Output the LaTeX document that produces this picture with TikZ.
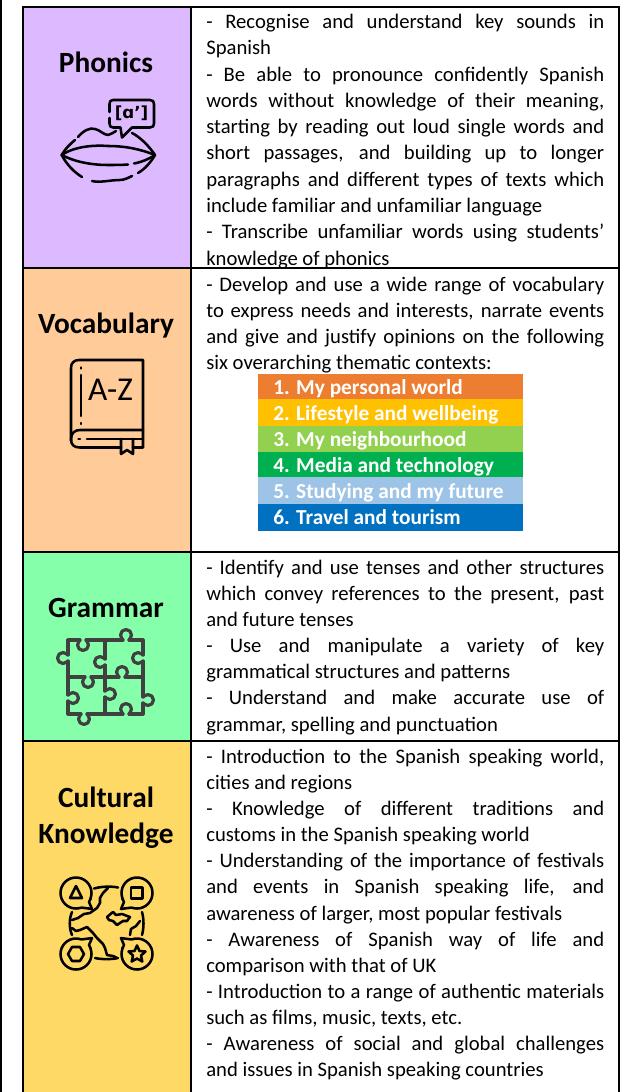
\documentclass[tikz,border=0pt]{standalone}
\usepackage{fontspec}
\setmainfont{Carlito}
\newfontfamily\iconfont{DejaVu Sans}
\definecolor{cpurple}{HTML}{DDB9FF}
\definecolor{corange}{HTML}{FFCC99}
\definecolor{cgreen}{HTML}{85FFAA}
\definecolor{cyellow}{HTML}{FFD966}
\definecolor{band1}{HTML}{ED7D31}
\definecolor{band2}{HTML}{FFC000}
\definecolor{band3}{HTML}{92D050}
\definecolor{band4}{HTML}{00B050}
\definecolor{band5}{HTML}{9DC3E6}
\definecolor{band6}{HTML}{0070C0}
\definecolor{puzz}{HTML}{404040}
\newcommand{\jbrk}{\break}
\newcommand{\bodyset}{\tolerance=10000\relax\hbadness=10000\relax\hfuzz=3pt\relax\spaceskip=0.226em plus 0.6em minus 0.13em\relax}
\newcommand{\bandset}{\spaceskip=0.226em\relax}
\tikzset{
  x=0.75pt,y=-0.75pt,
  tablerule/.style={line width=1.5pt,black},
  celltitle/.style={font=\fontsize{22}{26}\selectfont\bfseries,inner sep=0pt,anchor=base},
  bodytext/.style={anchor=north west,inner sep=0pt,text width=298.5pt,align=justify,
    font=\fontsize{15.5}{19.55}\selectfont},
  bandbox/.style={anchor=base west,inner sep=0pt,text=white,font=\fontsize{16}{19}\selectfont\bfseries},
  icon/.style={line width=1.9pt,line cap=round,line join=round,black},
  pics/knob/.style={code={
    \draw[line width=2.4pt,puzz,line cap=round,line join=round]
      (-3,0) .. controls (-3,1) and (-5.5,2) .. (-5.5,5) .. controls (-5.5,8) and (-3,10.5) .. (0,10.5)
      .. controls (3,10.5) and (5.5,8) .. (5.5,5) .. controls (5.5,2) and (3,1) .. (3,0);}},
  pics/bubble/.style={code={
    \draw[icon] (0,0) circle[radius=15.5];
    \fill[cyellow] (14.6,5.5) -- (16.5,16.5) -- (5.5,14.6) -- (0,5) -- cycle;
    \draw[icon] (14.6,5.5) -- (13,9) .. controls (14,11) and (15,14) .. (16,16) .. controls (13,15.5) and (9,15) .. (5.5,14.6);
  }},
}
\begin{document}
\begin{tikzpicture}
\useasboundingbox (0,0) rectangle (629,1092);
\fill[white] (0,0) rectangle (629,1092);
% cell fills
\fill[cpurple] (22,7) rectangle (190.5,268);
\fill[corange] (22,268) rectangle (190.5,552);
\fill[cgreen] (22,552) rectangle (190.5,741);
\fill[cyellow] (22,741) rectangle (190.5,1092);
% table rules
\draw[tablerule] (1,0) -- (1,1092);
\draw[tablerule] (22.5,1092) -- (22.5,7) -- (619,7) -- (619,1092);
\draw[tablerule] (190.5,7) -- (190.5,1092);
\draw[tablerule] (22.5,268) -- (619,268);
\draw[tablerule] (22.5,552) -- (619,552);
\draw[tablerule] (22.5,741) -- (619,741);
% titles
\node[celltitle] (tphon) at (106,72) {Phonics};
\node[celltitle] (tvoc) at (106,333.5) {Vocabulary};
\node[celltitle] (tgram) at (106,617) {Grammar};
\node[celltitle] (tcult1) at (106,807) {Cultural};
\node[celltitle] (tcult2) at (106,843) {Knowledge};
% body text
\node[bodytext,font=\fontsize{15.5}{19.7}\selectfont] (bphon) at (206,14) {\bodyset - Recognise and understand key sounds in\jbrk Spanish\par
- Be able to pronounce confidently Spanish\jbrk words without knowledge of their meaning,\jbrk starting by reading out loud single words and\jbrk short passages, and building up to longer\jbrk paragraphs and different types of texts which\jbrk include familiar and unfamiliar language\par
- Transcribe unfamiliar words using students’\jbrk knowledge of phonics\par};
\node[bodytext] (bvoc) at (206,276.5) {\bodyset - Develop and use a wide range of vocabulary\jbrk to express needs and interests, narrate events\jbrk and give and justify opinions on the following\jbrk six overarching thematic contexts:\par};
\node[bodytext] (bgram) at (206,560) {\bodyset - Identify and use tenses and other structures\jbrk which convey references to the present, past\jbrk and future tenses\par
- Use and manipulate a variety of key\jbrk grammatical structures and patterns\par
- Understand and make accurate use of\jbrk grammar, spelling and punctuation\par};
\node[bodytext] (bcult) at (206,749) {\bodyset - Introduction to the Spanish speaking world,\jbrk cities and regions\par
- Knowledge of different traditions and\jbrk customs in the Spanish speaking world\par
- Understanding of the importance of festivals\jbrk and events in Spanish speaking life, and\jbrk awareness of larger, most popular festivals\par
- Awareness of Spanish way of life and\jbrk comparison with that of UK\par
- Introduction to a range of authentic materials\jbrk such as films, music, texts, etc.\par
- Awareness of social and global challenges\jbrk and issues in Spanish speaking countries\par};
% bands
\fill[band1] (258,374) rectangle (523,399);
\fill[band2] (258,399) rectangle (523,426);
\fill[band3] (258,426) rectangle (523,452);
\fill[band4] (258,452) rectangle (523,477);
\fill[band5] (258,477) rectangle (523,504);
\fill[band6] (258,504) rectangle (523,530.6);
\node[bandbox] (b1) at (273,394) {\bandset 1. My personal world};
\node[bandbox] (b2) at (273,420) {\bandset 2. Lifestyle and wellbeing};
\node[bandbox] (b3) at (273,446) {\bandset 3. My neighbourhood};
\node[bandbox] (b4) at (273,472) {\bandset 4. Media and technology};
\node[bandbox] (b5) at (273,498) {\bandset 5. Studying and my future};
\node[bandbox] (b6) at (273,524.7) {\bandset 6. Travel and tourism};
% lips icon
\draw[icon] (61.7,155) .. controls (75,146) and (95,145) .. (108,146) .. controls (125,146) and (140,149) .. (155,155);
\draw[icon] (61.7,155) .. controls (75,162) and (92,165) .. (108,165) .. controls (115,165) and (122,165) .. (128,164.5);
\draw[icon] (134,163.5) .. controls (142,162) and (149,159) .. (155,155);
\draw[icon] (61.7,155) .. controls (65,149) and (70,144) .. (75,140);
\draw[icon] (78,137) .. controls (83,131) and (90,127) .. (95,129) .. controls (100,130) and (104,135) .. (108,135) .. controls (111,135) and (113,132) .. (116,131);
\draw[icon] (132,133) .. controls (140,137) and (149,146) .. (155,155);
\draw[icon] (61.7,155) .. controls (67,165) and (74,172) .. (82,177);
\draw[icon] (92,181) .. controls (100,183) and (110,180) .. (120,180) .. controls (124,180) and (128,178) .. (132,176);
\draw[icon] (138,173) .. controls (145,169) and (151,162) .. (155,155);
\draw[icon] (109.5,112) -- (109.5,104) .. controls (109.5,101.5) and (110.5,100) .. (113,100) -- (150,100) .. controls (153,100) and (154,101.5) .. (154,104) -- (154,123.5) .. controls (154,126) and (153,127.5) .. (150,127.5) -- (132,127.5) -- (122,137.5) -- (120.5,127.5) -- (113,127.5) .. controls (110.5,127.5) and (109.5,126) .. (109.5,123.5) -- (109.5,118);
\node[inner sep=0pt,font=\iconfont\bfseries\fontsize{12.5}{15}\selectfont] (lipsym) at (131.5,113.5) {[ɑ’]};
% book icon
\draw[icon] (71,441) -- (71,368) .. controls (71,363) and (74,360) .. (79,360) -- (143,360) -- (143,447.5) -- (133,447.5);
\draw[icon] (121,447.5) -- (80,447.5) .. controls (74,447.5) and (71,445) .. (71,439) .. controls (71,433) and (75,430) .. (80,430) -- (143,430);
\draw[icon] (87,439) -- (143,439);
\draw[icon] (78.5,439) -- (80,439);
\draw[icon] (81,367.5) -- (81,368.5);
\draw[icon] (81,375) -- (81,416);
\draw[icon] (81,423) -- (81,424);
\draw[icon] (121,439) -- (121,454) -- (127,450) -- (133,454) -- (133,439);
\node[inner sep=0pt,font=\fontsize{25}{27}\selectfont] (bookaz) at (110.5,390) {A-Z};
% puzzle icon
\draw[line width=2.4pt,puzz,line cap=round,line join=round]
  (68,655) -- (68,640) -- (80,640) (86,640) -- (123,640) (129,640) -- (143,640) -- (143,655)
  (143,661) -- (143,697) (143,703) -- (143,714) -- (129,714) (123,714) -- (87,714) (81,714) -- (68,714) -- (68,701)
  (68,695) -- (68,661)
  (105,640) -- (105,659) (105,665) -- (105,691) (105,697) -- (105,714)
  (68,677) -- (85,677) (91,677) -- (119,677) (125,677) -- (143,677);
\pic at (83,640) {knob};
\pic[rotate=180] at (126,640) {knob};
\pic[rotate=-90] at (68,658) {knob};
\pic[rotate=-90] at (143,658) {knob};
\pic[rotate=-90] at (105,662) {knob};
\pic[rotate=180] at (122,677) {knob};
\pic at (88,677) {knob};
\pic[rotate=90] at (68,698) {knob};
\pic[rotate=90] at (105,694) {knob};
\pic[rotate=90] at (143,700) {knob};
\pic[rotate=180] at (126,714) {knob};
\pic at (84,714) {knob};
% globe icon
\pic at (76,893) {bubble};
\pic[xscale=-1] at (137,893) {bubble};
\pic[yscale=-1] at (76,954) {bubble};
\pic[xscale=-1,yscale=-1] at (137,954) {bubble};
\draw[icon] (76,886) -- (70,898) -- (82,898) -- cycle;
\draw[icon] (131,887.5) rectangle (142.5,898.5);
\draw[icon] (84,954) -- (80,961) -- (72,961) -- (68,954) -- (72,947) -- (80,947) -- cycle;
\draw[icon] (137,945.5) -- (139.5,951) -- (145.5,951.5) -- (141,955.5) -- (142.3,961.5) -- (137,958.5) -- (131.7,961.5) -- (133,955.5) -- (128.5,951.5) -- (134.5,951) -- cycle;
\draw[icon] (94,888.5) .. controls (101,886.5) and (111,886) .. (118,887.5);
\draw[icon] (95,958) .. controls (102,959.5) and (111,959.5) .. (118,958);
\draw[icon] (72,912) .. controls (69,919) and (69,928) .. (72,935);
\draw[icon] (142,912) .. controls (144,919) and (144,928) .. (142,935);
\draw[icon] (108,888) -- (103,893) -- (100,898) -- (100,903) -- (97,908) -- (90,913) -- (84,914) -- (78,918) -- (72,920);
\draw[icon] (72,928) -- (76,931) -- (80,930) -- (87,927) -- (93,933) -- (97,938) -- (103,944) -- (105,948) -- (107,955) -- (113,956) -- (117,958);
\draw[icon] (107,917) -- (113,912) -- (116,915) -- (122,914) -- (130,917) -- (127,921) -- (123,921) -- (117,925) -- (113,921) -- (109,920) -- cycle;
\draw[icon] (130,935) -- (131,929) -- (136,926) -- (140,921);
\end{tikzpicture}
\end{document}
